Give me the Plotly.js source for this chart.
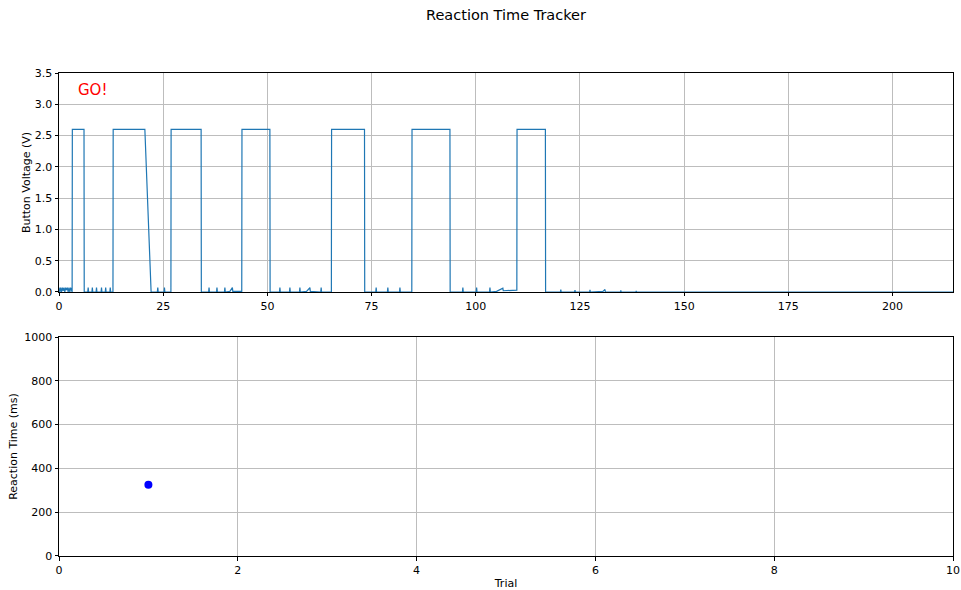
<!DOCTYPE html>
<html>
<head>
<meta charset="utf-8">
<script src="https://cdn.plot.ly/plotly-3.0.1.min.js"></script>
<style>html,body{margin:0;padding:0;background:#fff;}#chart{width:961px;height:590px;}</style>
</head>
<body>
<div id="chart"></div>
<script>
// Button voltage signal (time index, volts)
const sampleTime = [
  0,0.2,0.4,0.6,0.8,1.0,1.2,1.4,1.6,1.8,2.0,2.2,2.4,2.6,2.8,3.0,
  3.15,3.2,6.0,6.05,
  6.9,7.0,7.1, 7.9,8.0,8.1, 8.9,9.0,9.1, 10.1,10.2,10.3, 11.1,11.2,11.3, 12.2,12.3,12.4,
  12.95,13.0,20.6,22.1,
  23.6,23.7,23.8, 25.2,25.3,25.4,
  26.85,26.9,34.1,34.15,
  35.9,36.0,36.1, 37.8,37.9,38.0, 39.7,39.8,39.9, 41.0,41.6,41.7,42.2,43.8,
  43.85,43.9,50.6,50.65,
  52.9,53.0,53.1, 55.3,55.4,55.5, 57.7,57.8,57.9, 59.4,60.2,60.3, 62.8,62.9,63.0,
  65.35,65.4,73.3,73.35,
  76.0,76.1,76.2, 78.8,78.9,79.0, 81.7,81.8,81.9,
  84.65,84.7,93.8,93.85,
  96.8,96.9,97.0, 100.1,100.2,100.3, 103.3,103.4,103.5, 105.0,106.5,106.6,109.85,
  109.9,116.7,116.75,
  120.3,120.4,120.5, 123.7,123.8,123.9, 127.3,127.4,127.5, 130.5,131.0,131.1,
  134.7,134.8,134.9, 138.4,138.5,138.6, 142.1,142.2,142.3, 145.5,146.1,146.2,
  150.1,150.2,150.3, 154.1,154.2,154.3, 157.8,157.9,158.0, 161.9,162.0,162.1,
  166.1,166.2,166.3, 169.5,170.6,170.7, 174.5,174.6,174.7, 177.8,179.0,179.1,
  182.9,183.0,183.1, 187.3,187.4,187.5, 191.6,191.7,191.8, 195.3,196.2,196.3,
  200.5,200.6,200.7, 204.4,205.4,205.5, 209.6,209.7,209.8, 214.5
];
const voltage = [
  0.07,0,0.07,0,0.07,0.02,0.07,0,0.07,0.03,0.07,0,0.07,0,0.07,0,
  0,2.6,2.6,0,
  0,0.07,0, 0,0.07,0, 0,0.07,0, 0,0.07,0, 0,0.07,0, 0,0.07,0,
  0,2.6,2.6,0,
  0,0.07,0, 0,0.07,0,
  0,2.6,2.6,0,
  0,0.07,0, 0,0.07,0, 0,0.07,0, 0.01,0.07,0.01,0.01,0.01,
  0.01,2.6,2.6,0,
  0,0.07,0, 0,0.07,0, 0,0.07,0, 0.01,0.07,0.01, 0,0.07,0,
  0,2.6,2.6,0,
  0,0.07,0, 0,0.07,0, 0,0.07,0,
  0,2.6,2.6,0,
  0,0.07,0, 0,0.07,0, 0,0.07,0, 0.01,0.06,0.02,0.03,
  2.6,2.6,0,
  0,0.04,0, 0,0.03,0, 0,0.035,0, 0.01,0.04,0,
  0,0.025,0, 0,0.015,0, 0,0.012,0, 0.006,0.012,0,
  0,0.01,0, 0,0.01,0, 0,0.01,0, 0,0.01,0,
  0,0.01,0, 0.006,0.012,0, 0,0.01,0, 0.006,0.012,0,
  0,0.01,0, 0,0.012,0, 0,0.01,0, 0.006,0.012,0,
  0,0.01,0, 0.006,0.012,0, 0,0.01,0, 0
];

// Reaction times per trial
const trials = [1];
const reactionTimes = [325];

const axisFont = {family: 'DejaVu Sans, sans-serif', size: 11, color: '#000'};
const gridColor = '#bdbdbd';
const common = {
  showline: true, mirror: true, linecolor: '#000', linewidth: 1,
  ticks: 'outside', ticklen: 3.5, tickwidth: 1, tickcolor: '#000',
  showgrid: true, gridcolor: gridColor, gridwidth: 1,
  zeroline: false, tickfont: axisFont, automargin: false
};

const data = [
  {x: sampleTime, y: voltage, type: 'scatter', mode: 'lines',
   line: {color: '#1f77b4', width: 1.2}, xaxis: 'x', yaxis: 'y', hoverinfo: 'skip'},
  {x: trials, y: reactionTimes, type: 'scatter', mode: 'markers',
   marker: {color: '#0000ff', size: 8}, xaxis: 'x2', yaxis: 'y2'}
];

const layout = {
  width: 961, height: 590,
  paper_bgcolor: '#fff', plot_bgcolor: '#fff',
  showlegend: false,
  margin: {l: 59, r: 8, t: 73, b: 34},
  font: axisFont,
  title: {text: 'Reaction Time Tracker', font: {family: 'DejaVu Sans, sans-serif', size: 14.5, color: '#000'},
          xref: 'paper', x: 0.5, xanchor: 'center', yref: 'container', y: 1 - 15/590, yanchor: 'middle'},
  xaxis: Object.assign({}, common, {domain: [0, 1], range: [0, 214.5], tickvals: [0,25,50,75,100,125,150,175,200], anchor: 'y'}),
  yaxis: Object.assign({}, common, {domain: [0.5466, 1], range: [0, 3.5], dtick: 0.5, tick0: 0, tickformat: '.1f', anchor: 'x',
    title: {text: 'Button Voltage (V)', font: axisFont, standoff: 1}}),
  xaxis2: Object.assign({}, common, {domain: [0, 1], range: [0, 10], dtick: 2, tick0: 0, anchor: 'y2',
    title: {text: 'Trial', font: axisFont, standoff: 3}}),
  yaxis2: Object.assign({}, common, {domain: [0, 0.4534], range: [0, 1000], dtick: 200, tick0: 0, anchor: 'x2',
    title: {text: 'Reaction Time (ms)', font: axisFont, standoff: 4}}),
  annotations: [
    {text: 'GO!', xref: 'x', yref: 'y', x: 4.0, y: 3.23, xanchor: 'left', yanchor: 'middle',
     showarrow: false, font: {family: 'DejaVu Sans, sans-serif', size: 15, color: '#ff0000'}}
  ]
};

Plotly.newPlot('chart', data, layout, {displayModeBar: false, staticPlot: true});
</script>
</body>
</html>
